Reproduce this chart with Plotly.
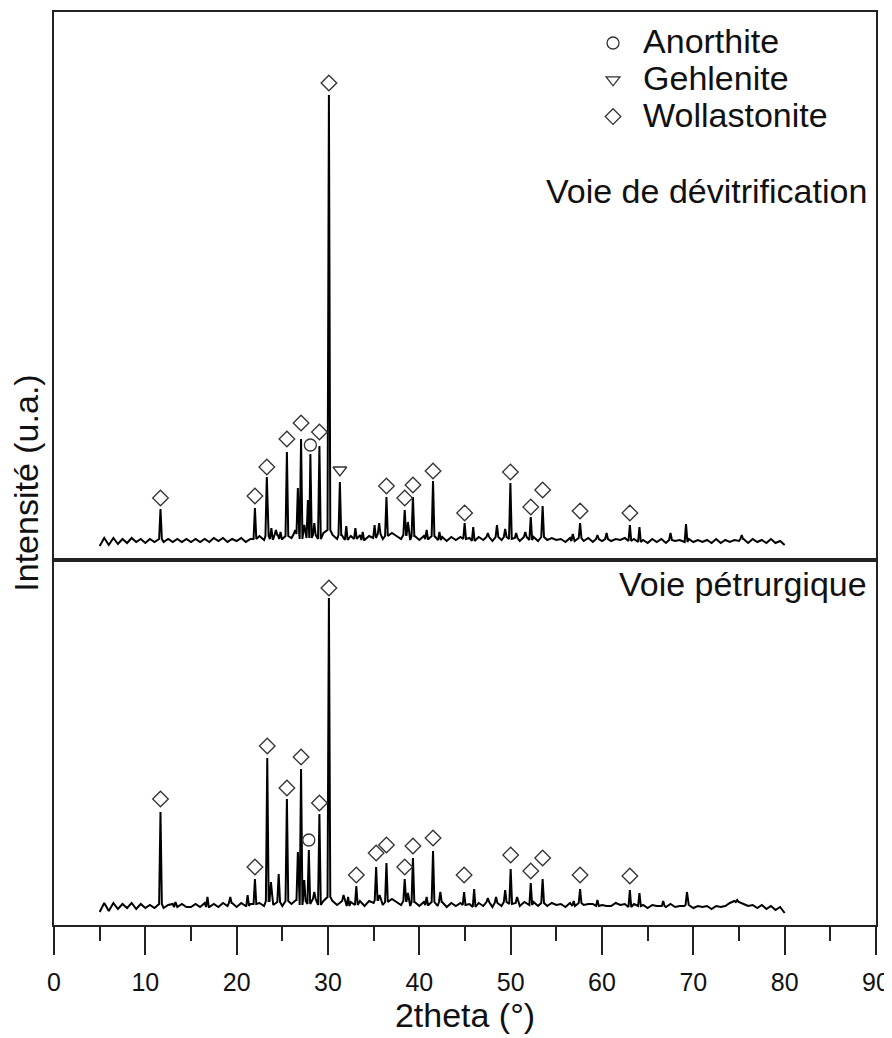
import plotly.graph_objects as go
from plotly.subplots import make_subplots

# baseline intensity read every 0.5 deg from 5 to 80 (u.a.)
theta_start = 5.0
theta_step = 0.5

base_devitrif = [
    14, 22, 15, 22, 16, 21, 17, 22, 18, 21,
    17, 21, 18, 21, 18, 21, 18, 21, 18, 21,
    18, 21, 18, 21, 18, 22, 19, 22, 18, 21,
    19, 22, 18, 21, 21, 24, 20, 24, 21, 25,
    21, 24, 22, 26, 21, 25, 22, 25, 21, 27,
    30, 25, 21, 25, 20, 24, 21, 25, 20, 24,
    22, 26, 21, 24, 27, 24, 21, 25, 20, 24,
    20, 24, 21, 24, 20, 23, 19, 23, 20, 23,
    21, 22, 19, 23, 20, 23, 19, 23, 20, 23,
    21, 22, 19, 23, 20, 23, 19, 23, 20, 22,
    20, 21, 18, 22, 19, 22, 19, 22, 18, 21,
    19, 21, 19, 21, 20, 22, 19, 21, 18, 20,
    17, 21, 18, 21, 17, 20, 19, 20, 18, 21,
    18, 20, 18, 20, 17, 21, 17, 20, 18, 20,
    19, 21, 17, 21, 18, 20, 17, 21, 17, 19,
    15,
]

base_petrurg = [
    13, 22, 14, 22, 16, 21, 17, 22, 16, 21,
    17, 20, 17, 21, 17, 20, 21, 18, 21, 18,
    18, 21, 18, 22, 18, 21, 18, 22, 19, 22,
    18, 22, 19, 21, 21, 22, 19, 24, 20, 23,
    19, 24, 21, 25, 20, 24, 21, 26, 20, 24,
    28, 24, 20, 24, 19, 23, 20, 24, 19, 24,
    22, 25, 20, 23, 26, 23, 20, 24, 19, 23,
    19, 23, 20, 23, 19, 23, 18, 22, 19, 22,
    20, 21, 18, 22, 19, 23, 18, 22, 19, 23,
    21, 22, 19, 23, 20, 23, 19, 22, 19, 22,
    20, 21, 18, 22, 19, 22, 20, 21, 21, 19,
    20, 19, 19, 22, 20, 21, 18, 21, 19, 20,
    17, 20, 19, 19, 18, 21, 18, 19, 19, 20,
    17, 19, 18, 19, 16, 19, 18, 19, 22, 24,
    23, 21, 19, 20, 17, 20, 16, 19, 15, 18,
    12,
]

# diffraction peaks: position (2theta) and apex intensity
peak_pos_devitrif = [11.66, 22.0, 23.3, 23.8, 24.3, 24.8, 25.5, 26.4, 26.7, 27.05,
                     27.4, 27.8, 28.07, 28.5, 29.06, 30.1, 31.3, 32.0, 33.0, 33.8,
                     35.1, 35.6, 36.4, 38.4, 38.75, 39.3, 40.8, 41.5, 42.2, 44.96,
                     45.9, 47.5, 48.5, 49.4, 49.97, 50.6, 51.6, 52.2, 53.5, 56.8,
                     57.6, 59.5, 60.5, 63.05, 64.1, 67.5, 69.2, 75.3]
peak_int_devitrif = [51, 52, 83, 32, 30, 28, 108, 30, 72, 121,
                     35, 60, 106, 37, 114, 465, 78, 34, 32, 28,
                     35, 37, 63, 50, 38, 63, 30, 79, 28, 37,
                     33, 27, 35, 31, 77, 27, 28, 43, 54, 26,
                     37, 25, 27, 35, 33, 27, 36, 25]

peak_pos_petrurg = [11.66, 13.3, 16.8, 19.3, 21.2, 22.0, 23.35, 23.75, 24.6, 25.5,
                    26.7, 27.05, 27.4, 27.9, 28.5, 29.06, 30.1, 31.7, 32.2, 33.1,
                    35.27, 35.65, 36.4, 38.4, 38.75, 39.3, 40.8, 41.5, 42.3, 44.9,
                    46.0, 47.5, 48.4, 49.4, 50.0, 50.7, 52.2, 53.5, 56.9, 57.6,
                    59.5, 63.05, 64.1, 66.7, 69.3, 74.8]
peak_int_petrurg = [113, 23, 28, 28, 30, 46, 167, 43, 51, 126,
                    73, 156, 45, 75, 33, 111, 327, 30, 28, 39,
                    58, 30, 62, 46, 32, 67, 28, 74, 33, 33,
                    36, 27, 28, 35, 56, 28, 42, 46, 24, 36,
                    25, 35, 32, 24, 33, 25]

# phase markers placed above the identified reflections
anorthite_devitrif_x = [28.07]
anorthite_devitrif_y = [115]
gehlenite_devitrif_x = [31.3]
gehlenite_devitrif_y = [90]
wollast_devitrif_x = [11.66, 22.0, 23.3, 25.5, 27.05, 29.06, 30.1, 36.4, 38.4, 39.3,
                      41.5, 44.96, 49.97, 52.2, 53.5, 57.6, 63.05]
wollast_devitrif_y = [62, 64, 93, 121, 137, 128, 477, 74, 62, 75,
                      89, 47, 88, 53, 70, 49, 47]

anorthite_petrurg_x = [27.9]
anorthite_petrurg_y = [85]
wollast_petrurg_x = [11.66, 22.0, 23.35, 25.5, 27.05, 29.06, 30.1, 33.1, 35.27, 36.4,
                     38.4, 39.3, 41.5, 44.9, 50.0, 52.2, 53.5, 57.6, 63.05]
wollast_petrurg_y = [126, 58, 179, 137, 168, 122, 337, 50, 72, 80,
                     58, 79, 87, 50, 70, 54, 67, 50, 49]

x_ticks = [0, 10, 20, 30, 40, 50, 60, 70, 80, 90]

HALF_WIDTH = 0.15
FONT = "Liberation Sans, Arial, sans-serif"
INK = "#222222"
TXT = "#111111"


def build_pattern(baseline, peak_pos, peak_int):
    grid = [theta_start + i * theta_step for i in range(len(baseline))]
    pts = [(t, v) for t, v in zip(grid, baseline)
           if all(abs(t - p) > HALF_WIDTH for p in peak_pos)]
    for p, h in zip(peak_pos, peak_int):
        foot = baseline[min(range(len(grid)), key=lambda i: abs(grid[i] - p))]
        pts += [(p - HALF_WIDTH, foot), (p, h), (p + HALF_WIDTH, foot)]
    pts.sort()
    return [a for a, _ in pts], [b for _, b in pts]


def big(s):
    return f'<span style="font-size:34px">{s}</span>'


fig = make_subplots(rows=2, cols=1, shared_xaxes=True, vertical_spacing=0,
                    row_heights=[548, 365])

for row, (base, pp, pi) in enumerate([(base_devitrif, peak_pos_devitrif, peak_int_devitrif),
                                       (base_petrurg, peak_pos_petrurg, peak_int_petrurg)], start=1):
    xs, ys = build_pattern(base, pp, pi)
    fig.add_trace(go.Scatter(x=xs, y=ys, mode="lines", showlegend=False,
                             line=dict(color="black", width=2)), row=row, col=1)

mk = dict(size=12, color="#333333", line=dict(color="#333333", width=1.3))

fig.add_trace(go.Scatter(x=anorthite_devitrif_x, y=anorthite_devitrif_y, mode="markers",
                         name=big("Anorthite"),
                         marker=dict(symbol="circle-open", **mk)), row=1, col=1)
fig.add_trace(go.Scatter(x=gehlenite_devitrif_x, y=gehlenite_devitrif_y, mode="markers",
                         name=big("Gehlenite"),
                         marker=dict(symbol="triangle-down-open", **mk)), row=1, col=1)
fig.add_trace(go.Scatter(x=wollast_devitrif_x, y=wollast_devitrif_y, mode="markers",
                         name=big("Wollastonite"),
                         marker=dict(symbol="diamond-open", **mk)), row=1, col=1)
fig.add_trace(go.Scatter(x=anorthite_petrurg_x, y=anorthite_petrurg_y, mode="markers",
                         showlegend=False,
                         marker=dict(symbol="circle-open", **mk)), row=2, col=1)
fig.add_trace(go.Scatter(x=wollast_petrurg_x, y=wollast_petrurg_y, mode="markers",
                         showlegend=False,
                         marker=dict(symbol="diamond-open", **mk)), row=2, col=1)

axis_common = dict(showline=True, mirror=True, linecolor=INK, linewidth=1.5,
                   showgrid=False, zeroline=False, automargin=False)

fig.update_xaxes(range=[0, 90], tickvals=x_ticks, **axis_common)
fig.update_xaxes(showticklabels=False, ticks="", row=1, col=1)
fig.update_xaxes(ticks="outside", ticklen=28, tickwidth=1.5, tickcolor=INK,
                 ticklabelstandoff=6,
                 minor=dict(dtick=5, tick0=0, ticks="outside", ticklen=14,
                            tickwidth=1.5, tickcolor=INK),
                 tickfont=dict(size=25, color=TXT, family=FONT),
                 title=dict(text="2theta (°)", font=dict(size=34, color=TXT, family=FONT),
                            standoff=0),
                 row=2, col=1)
fig.update_yaxes(showticklabels=False, ticks="", **axis_common)
fig.update_yaxes(range=[0, 548], row=1, col=1)
fig.update_yaxes(range=[0, 365], row=2, col=1)

fig.add_annotation(text="Voie de dévitrification", xref="paper", yref="paper",
                   x=0.992, y=0.8039, xanchor="right", yanchor="middle", showarrow=False,
                   font=dict(size=34, color=TXT, family=FONT))
fig.add_annotation(text="Voie pétrurgique", xref="paper", yref="paper",
                   x=0.992, y=0.3735, xanchor="right", yanchor="middle", showarrow=False,
                   font=dict(size=34, color=TXT, family=FONT))
fig.add_annotation(text="Intensité (u.a.)", xref="paper", yref="paper",
                   x=-0.0337, y=0.4837, xanchor="center", yanchor="middle", showarrow=False,
                   textangle=-90, font=dict(size=34, color=TXT, family=FONT))

# the page body adds an 8 px offset, so the figure is 16 px smaller and shifted margins
fig.update_layout(
    width=884, height=1030,
    margin=dict(l=46, r=16, t=4, b=113),
    paper_bgcolor="white", plot_bgcolor="white",
    showlegend=True,
    legend=dict(x=0.6436, y=0.9917, xanchor="left", yanchor="top",
                bgcolor="rgba(0,0,0,0)", itemwidth=50, tracegroupgap=0,
                font=dict(size=26, color=TXT, family=FONT)),
)

fig.write_html("out.html")
